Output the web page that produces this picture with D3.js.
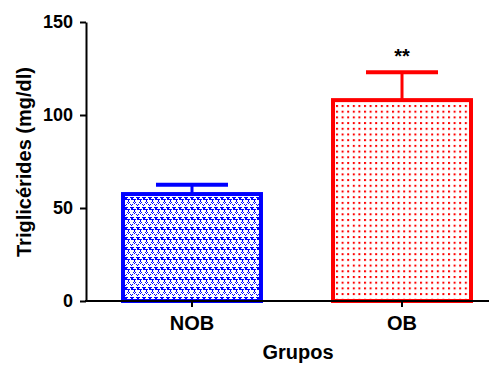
<!DOCTYPE html>
<html><head><meta charset="utf-8">
<script src="https://cdn.jsdelivr.net/npm/d3@7"></script>
<style>body{margin:0;background:#fff}svg{display:block}text{font-family:"Liberation Sans",Arial,sans-serif;font-weight:bold}</style>
</head><body><svg id="c" width="495" height="365"></svg>
<script>
const categories = ["NOB", "OB"];
const means = [57.5, 108];
const errors = [5, 15];
const colors = ["#0000ff", "#ff0000"];
const yTicks = [0, 50, 100, 150];
const annotations = ["", "**"];

const svg = d3.select("#c");
const defs = svg.append("defs");
// blue pattern
const pb = defs.append("pattern").attr("id","pBlue").attr("patternUnits","userSpaceOnUse")
  .attr("width",6).attr("height",10).attr("x",124).attr("y",197);
pb.append("rect").attr("width",6).attr("height",10).attr("fill","#fff");
pb.append("path").attr("d","M0,0h4v1h-1v2h-2v-2h-1z M3,5h1v1h1v-1h1v1h-1v1h-1v-1h-1z").attr("fill","#0000ff");
pb.append("path").attr("d","M3,2h3v1h-1v2h-1v-2h-1z M0,7h1v1h1v-1h1v1h-1v1h-1v-1h-1z").attr("fill","#0000ff");
// red pattern
const pr = defs.append("pattern").attr("id","pRed").attr("patternUnits","userSpaceOnUse")
  .attr("width",5.6).attr("height",5.7).attr("x",336).attr("y",105);
pr.append("rect").attr("width",5.6).attr("height",5.7).attr("fill","#fff");
pr.append("rect").attr("width",2).attr("height",2).attr("fill","#ff0000");
const patterns = ["url(#pBlue)", "url(#pRed)"];

const x0 = 86, y0 = 301;
const y = d3.scaleLinear().domain([0,150]).range([y0, 22]);
const x = d3.scaleBand().domain(categories).range([86, 508]).paddingInner(0.324).paddingOuter(0.1667);

// bars
const g = svg.append("g");
categories.forEach((c,i)=>{
  const bx = x(c), bw = x.bandwidth(), cx = bx + bw/2;
  g.append("line").attr("x1",cx).attr("x2",cx).attr("y1",y(means[i])).attr("y2",y(means[i]+errors[i]))
    .attr("stroke",colors[i]).attr("stroke-width",3);
  g.append("line").attr("x1",cx-36).attr("x2",cx+36).attr("y1",y(means[i]+errors[i])).attr("y2",y(means[i]+errors[i]))
    .attr("stroke",colors[i]).attr("stroke-width",4);
  g.append("rect").attr("x",bx+2).attr("y",y(means[i])).attr("width",bw-4).attr("height",y0-y(means[i]))
    .attr("fill",patterns[i]).attr("stroke",colors[i]).attr("stroke-width",4);
  if (annotations[i]) g.append("text").attr("x",cx).attr("y",y(means[i]+errors[i])-9)
    .attr("text-anchor","middle").attr("font-size",20).text(annotations[i]);
});

// y axis
const ya = svg.append("g").attr("transform",`translate(${x0},0)`)
  .call(d3.axisLeft(y).tickValues(yTicks).tickSize(6).tickSizeOuter(0).tickPadding(7));
ya.select(".domain").attr("stroke","#000").attr("stroke-width",2);
ya.selectAll(".tick line").attr("stroke","#000").attr("stroke-width",2);
ya.selectAll(".tick text").attr("font-size",18).attr("fill","#000");

// x axis
const xa = svg.append("g").attr("transform",`translate(0,${y0})`)
  .call(d3.axisBottom(x).tickSize(6).tickPadding(9));
xa.select(".domain").remove();
xa.append("line").attr("x1",x0-1).attr("x2",489).attr("y1",0).attr("y2",0).attr("stroke","#000").attr("stroke-width",2);
xa.selectAll(".tick line").attr("stroke","#000").attr("stroke-width",2);
xa.selectAll(".tick text").attr("font-size",20).attr("fill","#000");

svg.append("text").attr("x",298).attr("y",359).attr("text-anchor","middle").attr("font-size",20).text("Grupos");
svg.append("text").attr("transform","translate(31,162) rotate(-90)").attr("text-anchor","middle").attr("font-size",20).text("Triglicérides (mg/dl)");
</script></body></html>
